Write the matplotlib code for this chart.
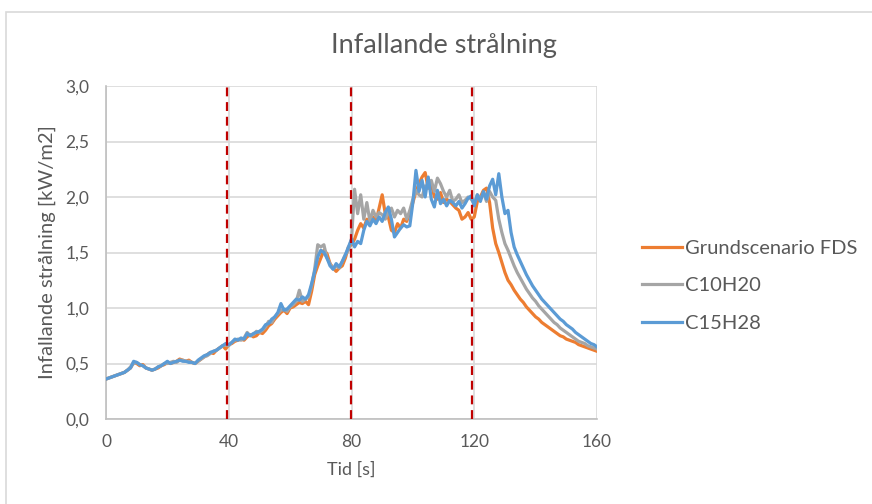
import matplotlib
matplotlib.use("Agg")
import matplotlib.pyplot as plt
from matplotlib.ticker import FuncFormatter, MultipleLocator
from matplotlib.patches import Rectangle

plt.rcParams['font.family'] = ['Lato', 'DejaVu Sans']

# Time axis in seconds (1 s steps)
tid = list(range(0, 161))

grundscenario_fds = [
    0.36, 0.37, 0.38, 0.39, 0.40, 0.41, 0.42, 0.44, 0.46, 0.51,
    0.50, 0.48, 0.49, 0.46, 0.45, 0.44, 0.45, 0.46, 0.48, 0.49,
    0.51, 0.50, 0.51, 0.52, 0.54, 0.53, 0.52, 0.53, 0.51, 0.50,
    0.52, 0.54, 0.56, 0.58, 0.60, 0.59, 0.62, 0.64, 0.66, 0.63,
    0.67, 0.68, 0.70, 0.71, 0.72, 0.71, 0.74, 0.76, 0.74, 0.75,
    0.78, 0.77, 0.80, 0.84, 0.86, 0.90, 0.93, 0.96, 0.98, 0.95,
    1.00, 1.01, 1.03, 1.05, 1.04, 1.06, 1.03, 1.15, 1.30, 1.38,
    1.45, 1.52, 1.49, 1.40, 1.36, 1.33, 1.36, 1.38, 1.45, 1.55,
    1.57, 1.62, 1.70, 1.76, 1.72, 1.80, 1.77, 1.82, 1.78, 1.90,
    2.02, 1.85, 1.82, 1.70, 1.68, 1.76, 1.72, 1.80, 1.78, 1.86,
    1.95, 2.05, 2.12, 2.18, 2.22, 2.08, 2.12, 2.00, 1.98, 2.04,
    1.95, 1.98, 1.96, 1.93, 1.90, 1.88, 1.80, 1.82, 1.86, 1.80,
    1.82, 1.96, 2.00, 2.06, 2.08, 1.95, 1.72, 1.58, 1.50, 1.41,
    1.32, 1.25, 1.21, 1.16, 1.12, 1.08, 1.05, 1.01, 0.98, 0.95,
    0.92, 0.90, 0.87, 0.85, 0.83, 0.81, 0.79, 0.77, 0.75, 0.74,
    0.72, 0.71, 0.70, 0.69, 0.67, 0.66, 0.65, 0.64, 0.63, 0.62,
    0.61,
]

c10h20 = [
    0.36, 0.37, 0.38, 0.39, 0.40, 0.41, 0.42, 0.44, 0.47, 0.50,
    0.51, 0.49, 0.48, 0.46, 0.45, 0.44, 0.45, 0.47, 0.48, 0.50,
    0.50, 0.51, 0.52, 0.51, 0.53, 0.53, 0.52, 0.52, 0.51, 0.50,
    0.52, 0.54, 0.56, 0.57, 0.59, 0.61, 0.62, 0.64, 0.66, 0.67,
    0.66, 0.69, 0.71, 0.72, 0.71, 0.73, 0.78, 0.75, 0.76, 0.79,
    0.78, 0.80, 0.83, 0.88, 0.87, 0.92, 0.95, 0.98, 0.99, 0.97,
    1.01, 1.03, 1.06, 1.16, 1.06, 1.08, 1.10, 1.20, 1.35, 1.57,
    1.55, 1.57, 1.45, 1.40, 1.35, 1.38, 1.36, 1.42, 1.48, 1.52,
    1.62, 2.07, 1.85, 2.02, 1.80, 1.95, 1.78, 1.88, 1.82, 1.86,
    1.84, 1.80, 1.86, 1.90, 1.82, 1.88, 1.85, 1.90, 1.80, 1.88,
    1.98, 2.06, 2.02, 2.00, 2.10, 2.08, 2.15, 2.05, 2.17, 2.12,
    2.05, 2.00, 2.06, 1.96, 1.98, 2.02, 1.95, 1.97, 2.00, 1.98,
    1.94, 2.02, 1.98, 2.04, 1.96, 2.05, 2.00, 1.97, 1.80, 1.68,
    1.58, 1.52, 1.45, 1.38, 1.32, 1.27, 1.22, 1.17, 1.13, 1.09,
    1.06, 1.02, 0.99, 0.96, 0.93, 0.90, 0.87, 0.85, 0.82, 0.80,
    0.78, 0.76, 0.74, 0.72, 0.70, 0.69, 0.68, 0.66, 0.65, 0.64,
    0.63,
]

c15h28 = [
    0.36, 0.37, 0.38, 0.39, 0.40, 0.41, 0.42, 0.44, 0.46, 0.52,
    0.51, 0.49, 0.48, 0.46, 0.45, 0.44, 0.45, 0.47, 0.48, 0.50,
    0.52, 0.50, 0.51, 0.52, 0.53, 0.52, 0.52, 0.51, 0.51, 0.50,
    0.53, 0.55, 0.57, 0.58, 0.60, 0.61, 0.62, 0.64, 0.66, 0.68,
    0.67, 0.69, 0.72, 0.71, 0.73, 0.72, 0.77, 0.75, 0.77, 0.78,
    0.79, 0.81, 0.85, 0.86, 0.90, 0.92, 0.96, 1.04, 0.98, 0.99,
    1.02, 1.05, 1.08, 1.07, 1.10, 1.08, 1.12, 1.22, 1.33, 1.46,
    1.52, 1.50, 1.45, 1.38, 1.35, 1.40, 1.37, 1.42, 1.48, 1.55,
    1.62, 1.55, 1.60, 1.58, 1.70, 1.78, 1.74, 1.80, 1.76, 1.82,
    1.78, 1.86, 1.91, 1.80, 1.64, 1.68, 1.72, 1.75, 1.73, 1.74,
    1.95, 2.24, 2.05, 2.15, 2.00, 2.18, 1.98, 1.91, 2.06, 1.94,
    1.98, 1.92, 1.97, 1.95, 1.92, 1.96, 1.90, 1.94, 1.99, 2.01,
    1.92, 2.02, 1.96, 2.05, 1.98, 2.10, 2.16, 2.02, 2.21, 2.00,
    1.85, 1.88, 1.68, 1.55, 1.48, 1.42, 1.36, 1.30, 1.25, 1.20,
    1.16, 1.12, 1.08, 1.05, 1.02, 0.99, 0.96, 0.93, 0.90, 0.88,
    0.85, 0.83, 0.81, 0.78, 0.76, 0.74, 0.72, 0.70, 0.68, 0.67,
    0.65,
]

series_names = ["Grundscenario FDS", "C10H20", "C15H28"]
series_colors = ["#ED7D31", "#A5A5A5", "#5B9BD5"]
markers_t = [39.3, 79.9, 119.3]

x_ticks = [0, 40, 80, 120, 160]

W, H = 872, 504
fig = plt.figure(figsize=(W / 100, H / 100), dpi=100)
ax = fig.add_axes([106 / W, 1 - 419 / H, (597 - 106) / W, (419 - 86) / H])

# chart frame
fig.patches.append(Rectangle((6 / W, -0.01), 1.0, 1 - 12 / H + 0.01,
                             transform=fig.transFigure, fill=False,
                             edgecolor="#D9D9D9", linewidth=1.2))

txt = "#595959"
grid_c = "#D9D9D9"

for vals, name, col in zip([grundscenario_fds, c10h20, c15h28], series_names, series_colors):
    ax.plot(tid, vals, color=col, linewidth=2.3, label=name, solid_joinstyle="round", zorder=3)

for xm in markers_t:
    ax.axvline(xm, color="#C00000", linestyle=(0, (4, 2.6)), linewidth=1.6, zorder=4)

ax.set_xlim(0, 160)
ax.set_ylim(0, 3.0)
ax.set_xticks(x_ticks)
ax.yaxis.set_major_locator(MultipleLocator(0.5))
ax.yaxis.set_major_formatter(FuncFormatter(lambda v, p: f"{v:.1f}".replace(".", ",")))
ax.grid(True, color=grid_c, linewidth=1.2, zorder=0)
ax.set_axisbelow(True)
for s in ["top", "right"]:
    ax.spines[s].set_visible(False)
for s in ["left", "bottom"]:
    ax.spines[s].set_color("#BFBFBF")
    ax.spines[s].set_linewidth(1.2)
ax.tick_params(length=0, labelsize=12.5, colors=txt)
ax.tick_params(axis="y", pad=12)
ax.tick_params(axis="x", pad=11)

fig.text(444 / W, 1 - 45 / H, "Infallande strålning", fontsize=19.5, color=txt,
         ha="center", va="center")
ax.set_xlabel("Tid [s]", fontsize=13, color=txt, labelpad=8)
ax.set_ylabel("Infallande strålning [kW/m2]", fontsize=14.5, color=txt, labelpad=7)

leg = ax.legend(loc="center left", bbox_to_anchor=(1.055, 0.40), frameon=False,
                fontsize=14.5, labelcolor=txt, handlelength=2.0, handletextpad=0.15,
                labelspacing=1.0)
for h in leg.get_lines():
    h.set_linewidth(2.3)

fig.savefig("out.png", dpi=100)
